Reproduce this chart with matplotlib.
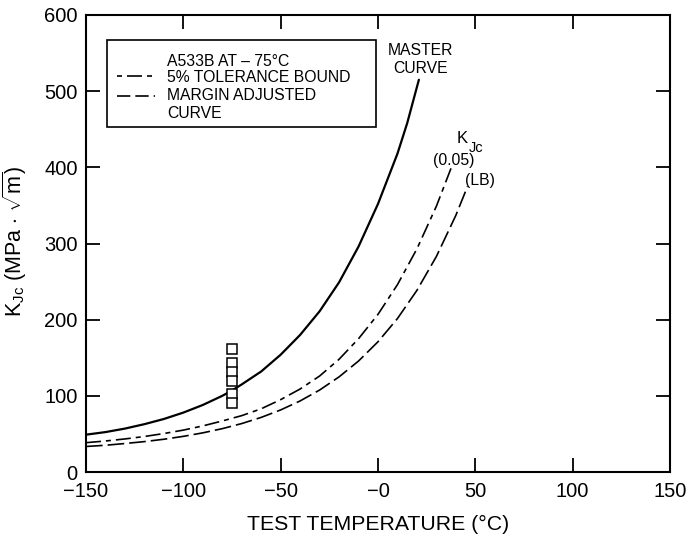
import matplotlib
matplotlib.use("Agg")
import matplotlib.pyplot as plt
from matplotlib.patches import Rectangle
from matplotlib.lines import Line2D

plt.rcParams['font.family'] = ['Liberation Sans', 'DejaVu Sans']
plt.rcParams['mathtext.fontset'] = 'custom'
plt.rcParams['mathtext.rm'] = 'Liberation Sans'
plt.rcParams['mathtext.it'] = 'Liberation Sans'

# Master curve (solid)
master_T = [-150, -140, -130, -120, -110, -100, -90, -80, -75, -70, -60, -50, -40,
            -30, -20, -10, 0, 10, 15, 21]
master_K = [49, 52.4, 57, 62.8, 69.6, 78, 88, 100, 107, 115, 132, 154, 180,
            211, 249, 296, 352, 418, 458, 515]

# 5% tolerance bound (dash-dot)
tol_T = [-150, -140, -130, -120, -110, -100, -90, -80, -70, -60, -50, -40, -30,
         -20, -10, 0, 10, 20, 30, 38]
tol_K = [38.5, 40.7, 43.4, 46.6, 50.5, 55, 60.5, 67, 74, 83, 95, 109, 126,
         148, 175, 207, 246, 293, 349, 402]

# Margin adjusted curve (long dash)
lb_T = [-150, -140, -130, -120, -110, -100, -90, -80, -70, -60, -50, -40, -30,
        -20, -10, 0, 10, 20, 30, 40, 46]
lb_K = [33.5, 35.1, 37.4, 39.9, 43, 46.8, 51.4, 56.9, 63.6, 71.7, 81.5, 93.3, 107.6,
        124.9, 145.7, 171, 201.5, 238.5, 283, 337, 375]

# Data at -75 C
data_T = [-75, -75, -75, -75, -75, -75]
data_K = [162, 143.5, 131.6, 120, 102.4, 90.2]

xticks = [-150, -100, -50, 0, 50, 100, 150]
xtick_labels = ['\u2212150', '\u2212100', '\u221250', '\u22120', '50', '100', '150']
yticks = [0, 100, 200, 300, 400, 500, 600]

fig = plt.figure(figsize=(6.88, 5.40), dpi=100)
ax = fig.add_axes([86/688, 1-472/540, (670-86)/688, (472-15)/540])

ax.plot(master_T, master_K, color='black', lw=1.6, solid_capstyle='round')
ax.plot(tol_T, tol_K, color='black', lw=1.2, linestyle=(0, (9, 3, 3, 3)))
ax.plot(lb_T, lb_K, color='black', lw=1.2, linestyle=(0, (10, 3)))
ax.plot(data_T, data_K, linestyle='none', marker='s', markersize=7,
        markerfacecolor='white', markeredgecolor='black', markeredgewidth=1.1)

ax.set_xlim(-150, 150)
ax.set_ylim(0, 600)
ax.set_xticks(xticks)
ax.set_xticklabels(xtick_labels)
ax.set_yticks(yticks)
ax.tick_params(direction='in', length=10, width=1.3, labelsize=14.5,
               top=True, right=True)
ax.tick_params(axis='x', pad=7)
ax.tick_params(axis='y', pad=6)
for s in ax.spines.values():
    s.set_linewidth(1.5)

ax.set_xlabel('TEST TEMPERATURE (\u00b0C)', fontsize=15.3, labelpad=10)
ax.set_ylabel(r'K$_{\mathrm{Jc}}$ (MPa $\cdot$ $\sqrt{\mathrm{m}}$)', fontsize=15.5)
ax.yaxis.set_label_coords(-0.097, 0.505)

# Legend box
ax.add_patch(Rectangle((-139.2, 452.8), 138.2, 114.2, fill=False, edgecolor='black',
                       lw=1.2, zorder=5))
fs = 11.3
ax.text(-108.4, 533.5, 'A533B AT \u2013 75\u00b0C', fontsize=fs, va='baseline', ha='left')
ax.text(-108.4, 512, '5% TOLERANCE BOUND', fontsize=fs, va='baseline', ha='left')
ax.text(-108.4, 488, 'MARGIN ADJUSTED', fontsize=fs, va='baseline', ha='left')
ax.text(-108.4, 464.6, 'CURVE', fontsize=fs, va='baseline', ha='left')
ax.add_line(Line2D([-134, -115.5], [520, 520], color='black', lw=1.2,
                   linestyle=(0, (3, 3, 9, 3))))
ax.add_line(Line2D([-134, -114.5], [494, 494], color='black', lw=1.2,
                   linestyle=(0, (8, 3))))

# Curve labels
ax.text(21.8, 547, 'MASTER', fontsize=fs, ha='center', va='baseline')
ax.text(21.8, 523.6, 'CURVE', fontsize=fs, ha='center', va='baseline')
ax.text(40.5, 431.7, 'K', fontsize=12, ha='left', va='baseline')
ax.text(46.6, 420.5, 'Jc', fontsize=10.5, ha='left', va='baseline')
ax.text(39, 409, '(0.05)', fontsize=fs, ha='center', va='center')
ax.text(52.4, 383, '(LB)', fontsize=fs, ha='center', va='center')

fig.savefig('out.png', dpi=100)
